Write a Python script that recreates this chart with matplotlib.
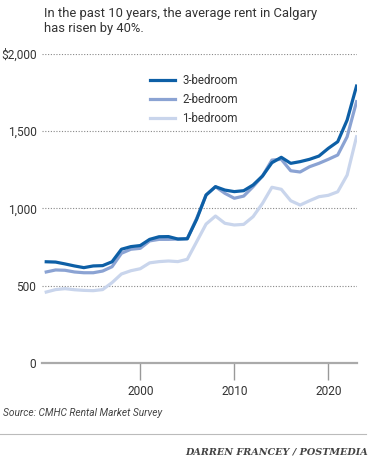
import matplotlib.pyplot as plt

years = list(range(1990, 2024))
bed3 = [655, 653, 641, 628, 617, 628, 630, 655, 736, 753, 760, 800, 817, 818, 802, 804,
        930, 1087, 1141, 1119, 1109, 1115, 1152, 1210, 1296, 1331, 1292, 1303, 1318, 1339,
        1389, 1432, 1572, 1792]
bed2 = [589, 602, 600, 589, 584, 584, 595, 623, 710, 736, 742, 790, 800, 800, 802, 804,
        936, 1087, 1141, 1098, 1066, 1080, 1141, 1210, 1313, 1318, 1244, 1236, 1270, 1292,
        1318, 1346, 1464, 1691]
bed1 = [459, 475, 481, 474, 470, 468, 475, 520, 576, 597, 610, 648, 656, 660, 656, 671,
        785, 899, 951, 904, 893, 897, 947, 1033, 1137, 1124, 1050, 1022, 1050, 1076,
        1085, 1108, 1216, 1464]
labels = ['3-bedroom', '2-bedroom', '1-bedroom']
colors = ['#0d5fa6', '#8ba3d3', '#c9d5ec']
yticks = [0, 500, 1000, 1500, 2000]
ytick_labels = ['0', '500', '1,000', '1,500', '$2,000']
xticks = [2000, 2010, 2020]

plt.rcParams['font.family'] = ['Roboto', 'DejaVu Sans']

fig = plt.figure(figsize=(3.75, 4.65), dpi=100)
ax = fig.add_axes([0.112, 0.2194, 0.84, 0.6646])

series = [bed3, bed2, bed1]
# light series drawn first so the dark one sits on top
for i in [2, 1, 0]:
    ax.plot(years, series[i], color=colors[i], lw=2.3, label=labels[i],
            solid_joinstyle='round', zorder=3 - i)

ax.set_xlim(1989.55, 2023.05)
ax.set_ylim(0, 2000)
ax.set_yticks(yticks)
ax.set_yticklabels(ytick_labels)
ax.set_xticks(xticks)
ax.tick_params(axis='y', length=0, pad=4, labelsize=8.6, labelcolor='#333333')
ax.tick_params(axis='x', length=12, width=1, color='#999999', pad=4,
               labelsize=8.6, labelcolor='#333333')

for y in yticks[1:]:
    ax.axhline(y, color='#888888', lw=0.8, ls=(0, (1, 1.5)), zorder=0)

for s in ['top', 'right', 'left']:
    ax.spines[s].set_visible(False)
ax.spines['bottom'].set_color('#aaaaaa')
ax.spines['bottom'].set_linewidth(1.6)

handles, labs = ax.get_legend_handles_labels()
ax.legend(handles[::-1], labs[::-1], loc='upper left', bbox_to_anchor=(0.31, 0.968),
          frameon=False, fontsize=8.3, handlelength=2.2, handletextpad=0.6,
          labelspacing=0.5, labelcolor='#333333')

fig.text(0.117, 0.985, 'In the past 10 years, the average rent in Calgary\nhas risen by 40%.',
         ha='left', va='top', fontsize=9.4, color='#333333', linespacing=1.2)
fig.text(0.008, 0.111, 'Source: CMHC Rental Market Survey', ha='left', va='center',
         fontsize=7.3, style='italic', color='#444444')
fig.add_artist(plt.Line2D([0, 0.975], [0.067, 0.067], transform=fig.transFigure,
                          color='#bbbbbb', lw=0.8))
fig.text(0.982, 0.028, 'DARREN FRANCEY / POSTMEDIA', ha='right',
         va='center', fontsize=6.9, style='italic', weight='bold',
         family='DejaVu Serif', color='#444444')

fig.savefig('out.png', dpi=100)
